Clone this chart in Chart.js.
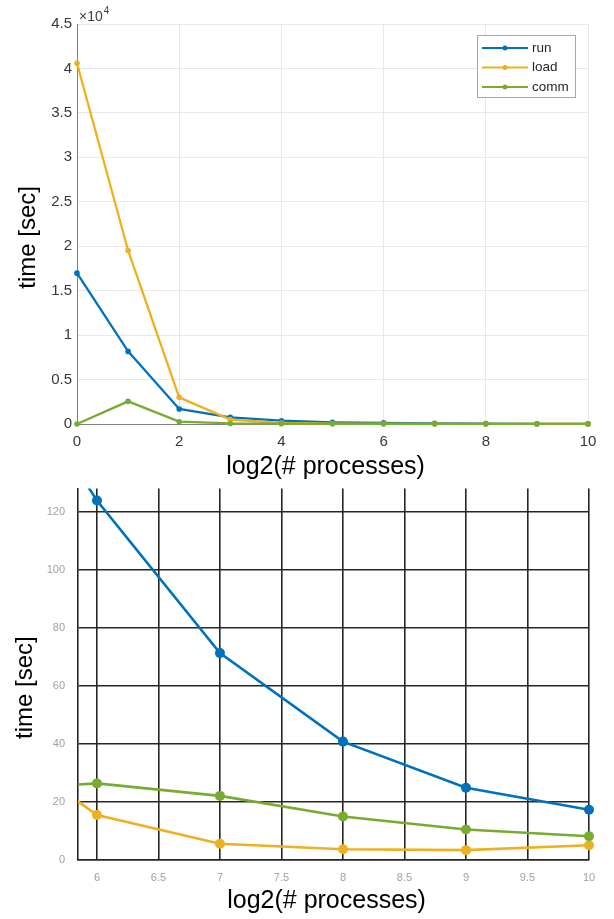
<!DOCTYPE html>
<html>
<head>
<meta charset="utf-8">
<script src="https://cdn.jsdelivr.net/npm/chart.js@4.4.1/dist/chart.umd.min.js"></script>
<style>
    html, body { margin: 0; padding: 0; background: #fff; }
    canvas { display: block; }
</style>
</head>
<body>
<canvas id="fullChart" width="614" height="482"></canvas>
<canvas id="zoomChart" width="614" height="437"></canvas>
<script>
// log2 of the number of processes
const logProcs = [0, 1, 2, 3, 4, 5, 6, 7, 8, 9, 10];
// seconds
const runTime = [16970, 8170, 1690, 750, 370, 190, 123.9, 71.3, 40.8, 24.9, 17.3];
const loadTime = [40580, 19520, 3000, 500, 110, 46, 15.5, 5.6, 3.7, 3.4, 5.1];
const commTime = [0, 2550, 260, 60, 35, 24, 26.4, 22.1, 15.0, 10.5, 8.2];

const seriesNames = ['run', 'load', 'comm'];
const seriesColors = ['#0072BD', '#EDB120', '#77AC30'];

const fullXTicks = [0, 2, 4, 6, 8, 10];
const fullYTicks = [0, 5000, 10000, 15000, 20000, 25000, 30000, 35000, 40000, 45000];
const zoomXTicks = [6, 6.5, 7, 7.5, 8, 8.5, 9, 9.5, 10];
const zoomYTicks = [0, 20, 40, 60, 80, 100, 120];

Chart.defaults.font.family = '"Liberation Sans", Arial, sans-serif';

function makeDatasets(lineWidth, radius, clip) {
    const series = [runTime, loadTime, commTime];
    return series.map((values, i) => ({
        label: seriesNames[i],
        data: logProcs.map((x, j) => ({ x: x, y: values[j] })),
        borderColor: seriesColors[i],
        backgroundColor: seriesColors[i],
        borderWidth: lineWidth,
        pointRadius: radius,
        pointBorderWidth: 0,
        pointBackgroundColor: seriesColors[i],
        tension: 0,
        clip: clip,
        // comm on top, like matlab
        order: 2 - i,
    }));
}

function fixedTicks(list) {
    return (scale) => {
        scale.ticks = list.map((v) => ({ value: v }));
    };
}

// legend box in the upper right corner of the plot
const boxLegend = {
    id: 'boxLegend',
    afterDraw(chart) {
        const ctx = chart.ctx;
        const area = chart.chartArea;
        const x = area.right - 111;
        const y = area.top + 11;
        ctx.save();
        ctx.fillStyle = '#fff';
        ctx.fillRect(x, y, 98, 62);
        ctx.strokeStyle = '#a8a8a8';
        ctx.lineWidth = 1;
        ctx.strokeRect(x + 0.5, y + 0.5, 98, 62);
        chart.data.datasets.forEach((ds, i) => {
            const ly = y + 13 + i * 19.5;
            ctx.strokeStyle = ds.borderColor;
            ctx.lineWidth = 2;
            ctx.beginPath();
            ctx.moveTo(x + 5, ly);
            ctx.lineTo(x + 51, ly);
            ctx.stroke();
            ctx.fillStyle = ds.borderColor;
            ctx.beginPath();
            ctx.arc(x + 28, ly, 2.5, 0, Math.PI * 2);
            ctx.fill();
            ctx.fillStyle = '#262626';
            ctx.font = '13.5px "Liberation Sans", Arial, sans-serif';
            ctx.textBaseline = 'middle';
            ctx.fillText(ds.label, x + 55, ly);
        });
        ctx.restore();
    },
};

// the x10^4 multiplier above the y axis
const exponentLabel = {
    id: 'exponentLabel',
    afterDraw(chart) {
        const ctx = chart.ctx;
        const area = chart.chartArea;
        ctx.save();
        ctx.fillStyle = '#404040';
        ctx.textBaseline = 'alphabetic';
        ctx.font = '14px "Liberation Sans", Arial, sans-serif';
        ctx.fillText('\u00d710', area.left + 2, area.top - 3);
        const w = ctx.measureText('\u00d710').width;
        ctx.font = '10px "Liberation Sans", Arial, sans-serif';
        ctx.fillText('4', area.left + 3 + w, area.top - 10);
        ctx.restore();
    },
};

new Chart(document.getElementById('fullChart'), {
    type: 'line',
    data: { datasets: makeDatasets(2.3, 2.8, false) },
    options: {
        responsive: false,
        animation: false,
        layout: { padding: { top: 24, right: 26, left: 0, bottom: 0 } },
        plugins: { legend: { display: false }, tooltip: { enabled: false } },
        scales: {
            x: {
                type: 'linear',
                min: 0,
                max: 10,
                afterBuildTicks: fixedTicks(fullXTicks),
                afterFit: (s) => { s.height = 58; },
                ticks: { color: '#383838', font: { size: 15 }, padding: 9, maxRotation: 0 },
                grid: { color: '#e8e8e8', drawTicks: false },
                border: { color: '#808080', width: 1 },
                title: {
                    display: true,
                    text: 'log2(# processes)  ',
                    color: '#000',
                    font: { size: 25 },
                    padding: { top: 0, bottom: 0 },
                },
            },
            y: {
                min: 0,
                max: 45000,
                afterBuildTicks: fixedTicks(fullYTicks),
                afterFit: (s) => { s.width = 77; },
                ticks: {
                    color: '#383838',
                    font: { size: 15 },
                    padding: 5,
                    callback: (v) => String(v / 1e4),
                },
                grid: { color: '#e8e8e8', drawTicks: false },
                border: { color: '#808080', width: 1 },
                title: {
                    display: true,
                    text: 'time [sec]    ',
                    color: '#000',
                    font: { size: 24 },
                    padding: { top: 14, bottom: 0 },
                },
            },
        },
    },
    plugins: [boxLegend, exponentLabel],
});

new Chart(document.getElementById('zoomChart'), {
    type: 'line',
    data: { datasets: makeDatasets(2.6, 5, { left: 0, top: 0, right: 8, bottom: 8 }) },
    options: {
        responsive: false,
        animation: false,
        layout: { padding: { top: 6, right: 25, left: 0, bottom: 0 } },
        plugins: { legend: { display: false }, tooltip: { enabled: false } },
        scales: {
            x: {
                type: 'linear',
                min: 5.846,
                max: 10,
                afterBuildTicks: fixedTicks(zoomXTicks),
                afterFit: (s) => { s.height = 59; },
                ticks: {
                    color: '#a0a0a0',
                    font: { size: 11 },
                    padding: 11,
                    maxRotation: 0,
                    callback: (v) => String(v),
                },
                grid: { color: '#262626', lineWidth: 1.6, drawTicks: false },
                border: { color: '#262626', width: 1.6 },
                title: {
                    display: true,
                    text: 'log2(# processes)  ',
                    color: '#000',
                    font: { size: 25 },
                    padding: { top: 0, bottom: 3 },
                },
            },
            y: {
                min: 0,
                max: 128,
                afterBuildTicks: fixedTicks(zoomYTicks),
                afterFit: (s) => { s.width = 78; },
                // gap between label and axis comes from an invisible tick mark,
                // tick padding would push the plot top down
                ticks: { color: '#a0a0a0', font: { size: 11 }, padding: 0 },
                grid: {
                    color: '#262626',
                    lineWidth: 1.6,
                    drawTicks: true,
                    tickLength: 13,
                    tickColor: 'rgba(0,0,0,0)',
                },
                border: { color: '#262626', width: 1.6 },
                title: {
                    display: true,
                    text: 'time [sec]    ',
                    color: '#000',
                    font: { size: 24 },
                    padding: { top: 11, bottom: 0 },
                },
            },
        },
    },
});
</script>
</body>
</html>
